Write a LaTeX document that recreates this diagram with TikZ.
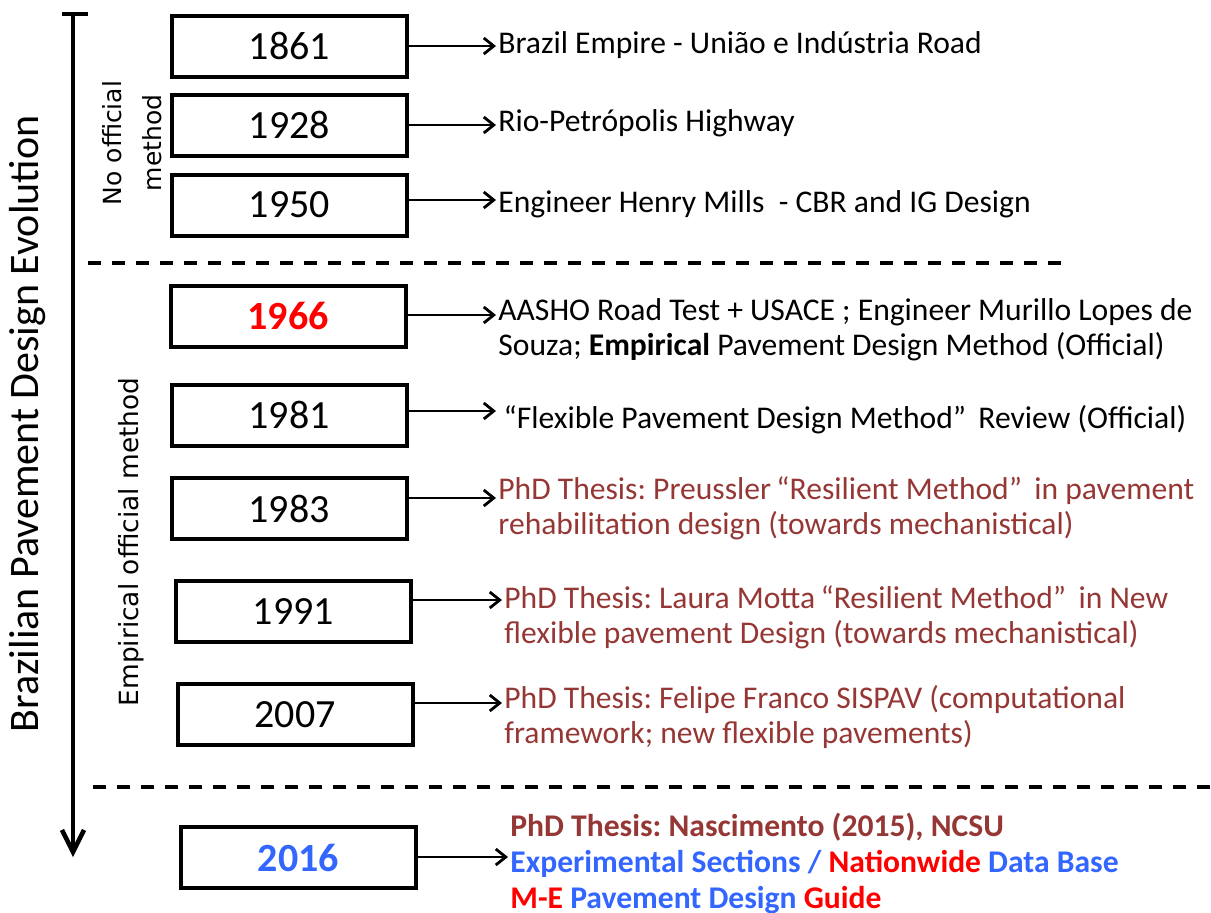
\documentclass[tikz,border=0pt]{standalone}
\usepackage{fontspec}
\setmainfont{Carlito}
\newfontfamily\labelfont{DejaVu Sans}
\usetikzlibrary{arrows.meta}
\frenchspacing

\definecolor{thesisred}{HTML}{953735}
\definecolor{pptred}{HTML}{FF0000}
\definecolor{pptblue}{HTML}{3366FF}

\begin{document}
\begin{tikzpicture}[x=0.5pt, y=-0.5pt,
  yearbox/.style={draw, line width=2pt, minimum width=117.5pt, minimum height=30.5pt, inner sep=0pt, font=\fontsize{20}{24}\selectfont},
  note/.style={anchor=west, align=left, inner sep=1pt, font=\fontsize{15.8}{17.5}\selectfont},
  link/.style={-{Straight Barb[length=5pt,width=8pt,line width=1.4pt]}, line width=0.8pt},
  divider/.style={line width=2pt, dash pattern=on 6.5pt off 5.5pt},
  group/.style={rotate=90, align=center, font=\labelfont\fontsize{12.5}{20}\selectfont}]
  \useasboundingbox (0,0) rectangle (1211,912);

  % time axis
  \coordinate (start) at (73,14);
  \coordinate (end) at (73,857);
  \draw[line width=2.25pt, -{Straight Barb[length=11pt,width=11pt,line width=2.25pt]}] (start) -- (end);
  \draw[line width=2pt] ([xshift=-5.5pt]start) -- ([xshift=7.5pt]start);
  \node[rotate=90, font=\fontsize{21}{25}\selectfont] (title) at (28,424) {Brazilian Pavement Design Evolution};

  % periods
  \node[group] (noofficial) at (132,143) {No official\\method};
  \node[group, font=\labelfont\fontsize{13.2}{20}\selectfont] (empirical) at (131,542) {Empirical official method};
  \draw[divider] (88,263) -- (1062,263);
  \draw[divider] (93,787) -- (1211,787);

  % years
  \node[yearbox] (y1861) at (289.5,46) {1861};
  \node[yearbox] (y1928) at (289.5,125) {1928};
  \node[yearbox] (y1950) at (289.5,205) {1950};
  \node[yearbox, text=pptred, font=\fontsize{20}{24}\selectfont\bfseries] (y1966) at (288,316) {1966};
  \node[yearbox] (y1981) at (289,415) {1981};
  \node[yearbox] (y1983) at (289,508.5) {1983};
  \node[yearbox] (y1991) at (293.5,611.5) {1991};
  \node[yearbox] (y2007) at (295,714.5) {2007};
  \node[yearbox, text=pptblue, font=\fontsize{20}{24}\selectfont\bfseries] (y2016) at (298.5,857.5) {2016};

  % events
  \node[note] (t1861) at (496,45) {Brazil Empire - União e Indústria Road};
  \node[note] (t1928) at (496,123) {Rio-Petrópolis Highway};
  \node[note] (t1950) at (496,204) {Engineer Henry Mills\ \ - CBR and IG Design};
  \node[note] (t1966) at (496,330) {AASHO Road Test + USACE ; Engineer Murillo Lopes de\\Souza; \textbf{Empirical} Pavement Design Method (Official)};
  \node[note] (t1981) at (496,420) {\,“Flexible Pavement Design Method”\,\ Review (Official)};
  \node[note, text=thesisred] (t1983) at (496,508) {PhD Thesis: Preussler\,“Resilient Method”\,\ in pavement\\rehabilitation design (towards mechanistical)};
  \node[note, text=thesisred] (t1991) at (502,617) {PhD Thesis: Laura Motta\,“Resilient Method”\,\ in New\\flexible pavement Design (towards mechanistical)};
  \node[note, text=thesisred] (t2007) at (502,717) {PhD Thesis: Felipe Franco SISPAV (computational\\framework; new flexible pavements)};
  \node[note, font=\fontsize{15.8}{18}\selectfont\bfseries] (t2016) at (508,863) {\textcolor{thesisred}{PhD Thesis: Nascimento (2015), NCSU}\\
    \textcolor{pptblue}{Experimental Sections /} \textcolor{pptred}{Nationwide} \textcolor{pptblue}{Data Base}\\
    \textcolor{pptred}{M-E} \textcolor{pptblue}{Pavement Design} \textcolor{pptred}{Guide}};

  \draw[link] (y1861.east |- 0,46) -- (t1861.west |- 0,46);
  \draw[link] (y1928.east |- 0,125) -- (t1928.west |- 0,125);
  \draw[link] (y1950.east |- 0,200) -- (t1950.west |- 0,200);
  \draw[link] (y1966.east |- 0,315) -- (t1966.west |- 0,315);
  \draw[link] (y1981.east |- 0,411) -- (t1981.west |- 0,411);
  \draw[link] (y1983.east |- 0,498) -- (t1983.west |- 0,498);
  \draw[link] (y1991.east |- 0,600) -- (t1991.west |- 0,600);
  \draw[link] (y2007.east |- 0,703) -- (t2007.west |- 0,703);
  \draw[link] (y2016.east |- 0,857) -- (t2016.west |- 0,857);
\end{tikzpicture}
\end{document}
